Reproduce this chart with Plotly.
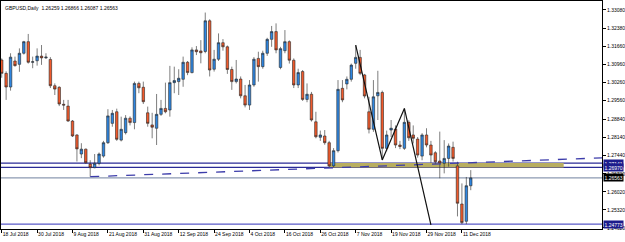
import plotly.graph_objects as go

# ---- data (GBPUSD daily, 18 Jul 2018 .. 13 Dec 2018) ----
opens = [1.3114, 1.3062, 1.3009, 1.3110, 1.3097, 1.3140, 1.3185, 1.3105, 1.3111, 1.3129,
         1.3122, 1.3116, 1.3014, 1.3008, 1.2942, 1.2935, 1.2877, 1.2823, 1.2749, 1.2768,
         1.2710, 1.2696, 1.2713, 1.2741, 1.2793, 1.2868, 1.2913, 1.2803, 1.2832, 1.2888,
         1.2871, 1.3023, 1.3008, 1.2909, 1.2862, 1.2849, 1.2903, 1.2926, 1.2920, 1.3026,
         1.3030, 1.3039, 1.3105, 1.3065, 1.3153, 1.3149, 1.3147, 1.3266, 1.3078, 1.3117,
         1.3181, 1.3165, 1.3077, 1.3030, 1.3040, 1.2975, 1.2939, 1.3017, 1.3120, 1.3088,
         1.3140, 1.3194, 1.3224, 1.3085, 1.3150, 1.3185, 1.3113, 1.3017, 1.3069, 1.2961,
         1.2981, 1.2874, 1.2814, 1.2819, 1.2793, 1.2703, 1.2762, 1.3004, 1.3021, 1.3039,
         1.3101, 1.3124, 1.3056, 1.2913, 1.2845, 1.2975, 1.2988, 1.2771, 1.2842, 1.2846,
         1.2784, 1.2771, 1.2872, 1.2823, 1.2807, 1.2741, 1.2823, 1.2784, 1.2754, 1.2722,
         1.2713, 1.2732, 1.2775, 1.2703, 1.2555, 1.2488, 1.26259]
highs = [1.3120, 1.3070, 1.3140, 1.3127, 1.3159, 1.3188, 1.3215, 1.3127, 1.3159, 1.3172,
         1.3140, 1.3125, 1.3023, 1.3012, 1.2959, 1.2959, 1.2881, 1.2826, 1.2791, 1.2770,
         1.2725, 1.2749, 1.2755, 1.2800, 1.2923, 1.2920, 1.2925, 1.2894, 1.2900, 1.2895,
         1.3030, 1.3030, 1.3030, 1.2933, 1.2909, 1.2982, 1.2959, 1.3026, 1.3091, 1.3088,
         1.3078, 1.3127, 1.3110, 1.3163, 1.3168, 1.3191, 1.3298, 1.3272, 1.3153, 1.3217,
         1.3195, 1.3170, 1.3088, 1.3114, 1.3050, 1.3017, 1.3036, 1.3125, 1.3146, 1.3150,
         1.3200, 1.3246, 1.3256, 1.3165, 1.3230, 1.3190, 1.3120, 1.3080, 1.3075, 1.3023,
         1.2990, 1.2913, 1.2840, 1.2842, 1.2800, 1.2772, 1.3036, 1.3036, 1.3050, 1.3100,
         1.3172, 1.3153, 1.3060, 1.2971, 1.3036, 1.3072, 1.2995, 1.2840, 1.2881, 1.2860,
         1.2800, 1.2926, 1.2880, 1.2860, 1.2815, 1.2830, 1.2849, 1.2800, 1.2760, 1.2836,
         1.2803, 1.2790, 1.2797, 1.2719, 1.2635, 1.2660, 1.26866]
lows = [1.3045, 1.2959, 1.2995, 1.3088, 1.3068, 1.3135, 1.3100, 1.3082, 1.3092, 1.3095,
        1.3118, 1.3005, 1.2978, 1.2935, 1.2920, 1.2874, 1.2815, 1.2720, 1.2733, 1.2712,
        1.2661, 1.2694, 1.2705, 1.2735, 1.2788, 1.2855, 1.2800, 1.2798, 1.2825, 1.2860,
        1.2845, 1.2985, 1.2943, 1.2855, 1.2810, 1.2784, 1.2897, 1.2907, 1.2894, 1.2985,
        1.2978, 1.3010, 1.3055, 1.3062, 1.3133, 1.3101, 1.3140, 1.3050, 1.3069, 1.3110,
        1.3150, 1.3060, 1.2998, 1.3023, 1.2965, 1.2930, 1.2920, 1.3010, 1.3030, 1.3080,
        1.3130, 1.3165, 1.3140, 1.3078, 1.3140, 1.3100, 1.3005, 1.3005, 1.2955, 1.2950,
        1.2875, 1.2810, 1.2800, 1.2785, 1.2697, 1.2698, 1.2755, 1.2950, 1.3000, 1.3030,
        1.3080, 1.3055, 1.2965, 1.2829, 1.2835, 1.2881, 1.2726, 1.2760, 1.2815, 1.2772,
        1.2768, 1.2765, 1.2800, 1.2790, 1.2735, 1.2725, 1.2775, 1.2715, 1.2710, 1.2655,
        1.2674, 1.2700, 1.2720, 1.2507, 1.2477, 1.2477, 1.26087]
closes = [1.3062, 1.3009, 1.3125, 1.3092, 1.3140, 1.3185, 1.3105, 1.3107, 1.3129, 1.3122,
          1.3125, 1.3014, 1.3001, 1.2943, 1.2939, 1.2877, 1.2819, 1.2769, 1.2768, 1.2715,
          1.2696, 1.2713, 1.2749, 1.2793, 1.2897, 1.2907, 1.2806, 1.2845, 1.2888, 1.2871,
          1.3023, 1.3006, 1.2952, 1.2868, 1.2853, 1.2903, 1.2926, 1.2913, 1.3026, 1.3034,
          1.3043, 1.3105, 1.3065, 1.3153, 1.3146, 1.3142, 1.3266, 1.3075, 1.3117, 1.3181,
          1.3165, 1.3077, 1.3030, 1.3040, 1.2975, 1.2939, 1.3017, 1.3117, 1.3088, 1.3140,
          1.3194, 1.3224, 1.3153, 1.3158, 1.3185, 1.3113, 1.3017, 1.3065, 1.2961, 1.2981,
          1.2881, 1.2816, 1.2823, 1.2793, 1.2703, 1.2762, 1.3000, 1.2959, 1.3039, 1.3094,
          1.3124, 1.3062, 1.2974, 1.2845, 1.2971, 1.2988, 1.2771, 1.2823, 1.2849, 1.2784,
          1.2778, 1.2872, 1.2812, 1.2810, 1.2745, 1.2823, 1.2784, 1.2745, 1.2719, 1.2714,
          1.2732, 1.2780, 1.2732, 1.2558, 1.2483, 1.2626, 1.26563]

date_labels = ["18 Jul 2018", "30 Jul 2018", "9 Aug 2018", "21 Aug 2018", "31 Aug 2018",
               "12 Sep 2018", "24 Sep 2018", "4 Oct 2018", "16 Oct 2018", "26 Oct 2018",
               "7 Nov 2018", "19 Nov 2018", "29 Nov 2018", "11 Dec 2018"]
date_label_bars = [0, 8, 16, 24, 32, 40, 48, 56, 64, 72, 80, 88, 96, 104]

price_ticks = [1.33080, 1.32380, 1.31660, 1.30960, 1.30260, 1.29560, 1.28840,
               1.28140, 1.27440, 1.26720, 1.26020, 1.25320, 1.24620]

level_prices = [1.27141, 1.26970, 1.26563, 1.24773]
level_colors = ["#2a2a96", "#2a2a96", "#8c9ab2", "#5a5ac8"]
level_box_colors = ["#1c1c8c", "#1c1c8c", "#000000", "#1c1c8c"]

zone_bars = [74, 127]
zone_prices = [1.26970, 1.27141]

zigzag_bars = [80, 86, 91, 97]
zigzag_prices = [1.3172, 1.2726, 1.2926, 1.2474]

trend_bars = [20, 133]
trend_prices = [1.2661, 1.27324]

x_range = [-0.16, 135.66]
y_range = [1.24581, 1.33428]

title_text = "GBPUSD,Daily  1.26259 1.26866 1.26087 1.26563"

bars = list(range(len(opens)))
FONT = "Liberation Sans, Arial, sans-serif"

fig = go.Figure()

# support/resistance zone
fig.add_shape(type="rect", xref="x", yref="y",
              x0=zone_bars[0], x1=zone_bars[1], y0=zone_prices[0], y1=zone_prices[1],
              fillcolor="#b8ae60", line=dict(width=0), layer="below")

# horizontal levels
for p, c in zip(level_prices, level_colors):
    fig.add_shape(type="line", xref="paper", yref="y", x0=0, x1=1, y0=p, y1=p,
                  line=dict(color=c, width=1.2), layer="below")

fig.add_trace(go.Candlestick(
    x=bars, open=opens, high=highs, low=lows, close=closes,
    increasing=dict(fillcolor="#2f86e0", line=dict(color="#262626", width=0.6)),
    decreasing=dict(fillcolor="#f05a2c", line=dict(color="#262626", width=0.6)),
    whiskerwidth=0, hoverinfo="skip", showlegend=False))

# dashed trend line (ray to the right edge)
slope = (trend_prices[1] - trend_prices[0]) / (trend_bars[1] - trend_bars[0])
x_end = x_range[1] + 2
fig.add_trace(go.Scatter(
    x=[trend_bars[0], x_end],
    y=[trend_prices[0], trend_prices[0] + slope * (x_end - trend_bars[0])],
    mode="lines", line=dict(color="#3c3caa", width=1.3, dash="dash"),
    hoverinfo="skip", showlegend=False, cliponaxis=True))

# zigzag
fig.add_trace(go.Scatter(x=zigzag_bars, y=zigzag_prices, mode="lines",
                         line=dict(color="#111111", width=1.2),
                         hoverinfo="skip", showlegend=False))

# price boxes on the right scale
for p, bc in zip(level_prices, level_box_colors):
    fig.add_annotation(xref="paper", yref="y", x=1, y=p, xanchor="left", yanchor="middle",
                       xshift=1, text=f"{p:.5f}", showarrow=False,
                       font=dict(family=FONT, size=5, color="white"),
                       bgcolor=bc, borderpad=0.5)

fig.add_annotation(xref="paper", yref="paper", x=0, y=1, xanchor="left", yanchor="top",
                   xshift=2, yshift=-2, text=title_text, showarrow=False,
                   font=dict(family=FONT, size=5, color="black"))

fig.update_layout(
    width=625, height=242,
    margin=dict(l=1, r=23, t=1, b=13),
    plot_bgcolor="white", paper_bgcolor="white",
    showlegend=False,
    boxgap=0.2,
    xaxis=dict(range=x_range, rangeslider=dict(visible=False), showgrid=False, zeroline=False,
               showline=True, mirror=True, linecolor="black", linewidth=1,
               tickmode="array", tickvals=date_label_bars, ticktext=date_labels,
               ticks="outside", ticklen=3, tickcolor="black", tickangle=0,
               ticklabelposition="outside right", automargin=False,
               tickfont=dict(family=FONT, size=5, color="black")),
    yaxis=dict(range=y_range, side="right", showgrid=False, zeroline=False,
               showline=True, mirror=True, linecolor="black", linewidth=1,
               tickmode="array", tickvals=price_ticks, automargin=False,
               ticktext=[f"{v:.5f}" for v in price_ticks],
               ticks="outside", ticklen=3, tickcolor="black",
               tickfont=dict(family=FONT, size=5, color="black")),
)

fig.write_html("out.html")
